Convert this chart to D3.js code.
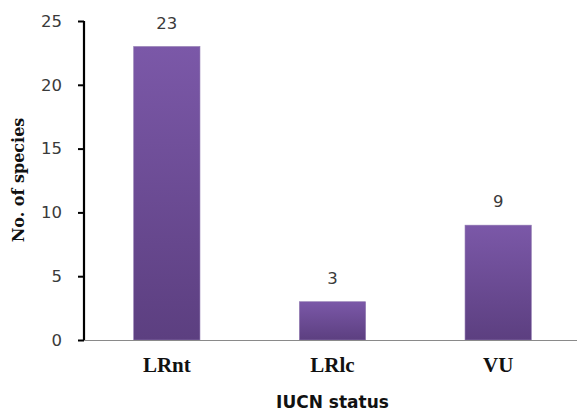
<!DOCTYPE html>
<html>
<head>
<meta charset="utf-8">
<script src="https://cdn.jsdelivr.net/npm/d3@7"></script>
<style>
  html, body { margin: 0; padding: 0; background: #fff; }
  svg { display: block; }
</style>
</head>
<body>
<svg id="chart" width="577" height="412"></svg>
<script>
// IUCN status categories and species counts
const categories = ["LRnt", "LRlc", "VU"];
const speciesCounts = [23, 3, 9];
const yTicks = [0, 5, 10, 15, 20, 25];

const svg = d3.select("#chart");
const margin = { left: 84, right: -4, top: 21, bottom: 72 };
const width = 577, height = 412;

const x = d3.scaleBand()
  .domain(categories)
  .range([margin.left, width - margin.right])
  .paddingInner(0.6)
  .paddingOuter(0.3);

const y = d3.scaleLinear()
  .domain([0, 25])
  .range([height - margin.bottom, margin.top]);

// vertical gradient for the bars
const defs = svg.append("defs");
const grad = defs.append("linearGradient")
  .attr("id", "barFill").attr("x1", 0).attr("y1", 0).attr("x2", 0).attr("y2", 1);
grad.append("stop").attr("offset", "0%").attr("stop-color", "#7b58a8");
grad.append("stop").attr("offset", "100%").attr("stop-color", "#5c3f80");

// bars
svg.append("g").selectAll("rect")
  .data(categories)
  .join("rect")
  .attr("x", d => x(d))
  .attr("y", (d, i) => y(speciesCounts[i]))
  .attr("width", x.bandwidth())
  .attr("height", (d, i) => y(0) - y(speciesCounts[i]))
  .attr("fill", "url(#barFill)")
  .attr("stroke", "#8f78b0")
  .attr("stroke-width", 0.6);

// value labels above bars
svg.append("g").selectAll("text")
  .data(categories)
  .join("text")
  .attr("x", d => x(d) + x.bandwidth() / 2)
  .attr("y", (d, i) => y(speciesCounts[i]) - 18)
  .attr("text-anchor", "middle")
  .attr("font-family", "DejaVu Sans, sans-serif")
  .attr("font-size", 16.5)
  .attr("fill", "#3a3a3a")
  .text((d, i) => speciesCounts[i]);

// x baseline
svg.append("line")
  .attr("x1", margin.left).attr("x2", width)
  .attr("y1", y(0) + 0.5).attr("y2", y(0) + 0.5)
  .attr("stroke", "#8a8a8a").attr("stroke-width", 1.2);

// y axis
const yAxis = svg.append("g")
  .attr("transform", `translate(${margin.left},0)`)
  .call(d3.axisLeft(y).tickValues(yTicks).tickSize(6).tickPadding(16));
yAxis.select(".domain").attr("stroke", "#000").attr("stroke-width", 2.2)
  .attr("d", `M0,${y(25)}V${y(0)}`);
yAxis.selectAll(".tick line").attr("stroke", "#000").attr("stroke-width", 2);
yAxis.selectAll(".tick text")
  .attr("font-family", "DejaVu Sans, sans-serif")
  .attr("font-size", 16.5)
  .attr("fill", "#3a3a3a");

// category labels
svg.append("g").selectAll("text")
  .data(categories)
  .join("text")
  .attr("x", d => x(d) + x.bandwidth() / 2)
  .attr("y", 372)
  .attr("text-anchor", "middle")
  .attr("font-family", "Liberation Serif, serif")
  .attr("font-weight", "bold")
  .attr("font-size", 21)
  .attr("fill", "#111")
  .text(d => d);

// axis titles
svg.append("text")
  .attr("x", x("LRlc") + x.bandwidth() / 2)
  .attr("y", 408)
  .attr("text-anchor", "middle")
  .attr("font-family", "DejaVu Sans, sans-serif")
  .attr("font-weight", "bold")
  .attr("font-size", 17)
  .attr("fill", "#111")
  .text("IUCN status");

svg.append("text")
  .attr("transform", "translate(24,180) rotate(-90)")
  .attr("text-anchor", "middle")
  .attr("font-family", "DejaVu Serif, serif")
  .attr("font-weight", "bold")
  .attr("font-size", 16)
  .attr("fill", "#111")
  .text("No. of species");
</script>
</body>
</html>
